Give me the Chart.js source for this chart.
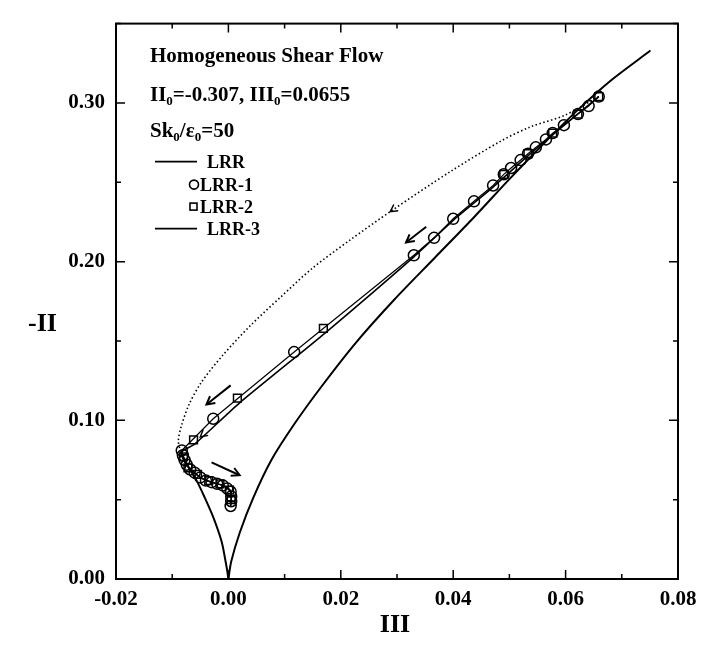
<!DOCTYPE html>
<html>
<head>
<meta charset="utf-8">
<script src="https://cdn.jsdelivr.net/npm/chart.js@4"></script>
<style>
  html, body { margin: 0; padding: 0; background: #fff; }
</style>
</head>
<body>
<canvas id="chart" width="718" height="646"></canvas>
<script>
// axis ticks
const xTickValues = [-0.02, 0.0, 0.02, 0.04, 0.06, 0.08];
const xTickLabels = ["-0.02", "0.00", "0.02", "0.04", "0.06", "0.08"];
const yTickValues = [0.0, 0.1, 0.2, 0.3];
const yTickLabels = ["0.00", "0.10", "0.20", "0.30"];

// realizability boundary, left branch (III < 0)
const boundLeftIII = [0.0, -0.0002, -0.0005, -0.0012, -0.0027, -0.0043, -0.0057, -0.0070, -0.0085];
const boundLeftII  = [0.0, 0.005, 0.011, 0.0235, 0.039, 0.052, 0.0623, 0.070, 0.080];

// realizability boundary, right branch (III > 0)
const boundRightIII = [0.0, 0.0005, 0.0020, 0.0044, 0.0076, 0.0117, 0.0165, 0.0227, 0.0295, 0.0366, 0.0437, 0.0500, 0.0560, 0.0620, 0.0680, 0.0751];
const boundRightII  = [0.0, 0.011, 0.029, 0.051, 0.0747, 0.0975, 0.121, 0.149, 0.176, 0.202, 0.228, 0.252, 0.274, 0.295, 0.314, 0.333];

// LRR (dotted)
const lrrIII = [0.0659, 0.0597, 0.0538, 0.0485, 0.0396, 0.0290, 0.0218, 0.0150, 0.0094, 0.0040, -0.0010, -0.0048, -0.0070, -0.0084, -0.0089, -0.0085];
const lrrII  = [0.304, 0.292, 0.285, 0.276, 0.257, 0.232, 0.214, 0.196, 0.178, 0.160, 0.141, 0.124, 0.110, 0.096, 0.087, 0.080];

// LRR-1 (circles)
const lrr1III = [0.0659, 0.0641, 0.0622, 0.0597, 0.0577, 0.0565, 0.0547, 0.0533, 0.0520, 0.0503, 0.0490, 0.0471, 0.0437, 0.0400, 0.0366, 0.0330, 0.0117, -0.0027, -0.0083, -0.0081, -0.0078, -0.0074, -0.0068, -0.0060, -0.0050, -0.0040, -0.0030, -0.0020, -0.0010, -0.0002, 0.0004, 0.0005, 0.0005, 0.0004];
const lrr1II  = [0.304, 0.298, 0.293, 0.286, 0.281, 0.277, 0.272, 0.268, 0.264, 0.259, 0.255, 0.248, 0.238, 0.227, 0.215, 0.204, 0.143, 0.101, 0.081, 0.078, 0.075, 0.072, 0.069, 0.067, 0.064, 0.062, 0.061, 0.060, 0.059, 0.057, 0.055, 0.052, 0.049, 0.046];

// LRR-2 (squares)
const lrr2III = [0.0659, 0.0622, 0.0577, 0.0533, 0.0490, 0.0169, 0.0016, -0.0062, -0.0080, -0.0072, -0.0055, -0.0035, -0.0015, 0.0002, 0.0005];
const lrr2II  = [0.304, 0.293, 0.281, 0.268, 0.255, 0.158, 0.114, 0.0877, 0.077, 0.070, 0.066, 0.062, 0.060, 0.056, 0.050];

// LRR-3 (solid)
const lrr3III = [0.0659, 0.0547, 0.0471, 0.0400, 0.0330, 0.0172, 0.0020, -0.0060, -0.0084, -0.0080, -0.0070, -0.0050, -0.0030, -0.0010, 0.0003, 0.0005, 0.0004];
const lrr3II  = [0.304, 0.271, 0.247, 0.226, 0.203, 0.155, 0.111, 0.085, 0.080, 0.075, 0.070, 0.064, 0.061, 0.059, 0.056, 0.051, 0.046];

// direction arrows [III1, -II1, III2, -II2]
const arrowLines = [[0.0352, 0.222, 0.0316, 0.212], [0.0004, 0.122, -0.0039, 0.110], [-0.0030, 0.0735, 0.0020, 0.0654]];
const arrowHeads = [[0.0300, 0.2345, 0.0288, 0.2315], [-0.0040, 0.0925, -0.0050, 0.0895]];

const serif = '"Liberation Serif", "Times New Roman", serif';

function pts(xs, ys) {
  return xs.map((x, i) => ({ x: x, y: ys[i] }));
}

function drawRuns(ctx, x, y, runs, size) {
  for (const r of runs) {
    if (r.sub) {
      ctx.font = "bold " + Math.round(size * 0.6) + "px " + serif;
      ctx.fillText(r.t, x, y + size * 0.22);
    } else {
      ctx.font = "bold " + size + "px " + serif;
      ctx.fillText(r.t, x, y);
    }
    x += ctx.measureText(r.t).width;
  }
}

function arrow(ctx, x1, y1, x2, y2, head, shaft) {
  const a = Math.atan2(y2 - y1, x2 - x1);
  if (shaft) {
    ctx.beginPath(); ctx.moveTo(x1, y1); ctx.lineTo(x2, y2); ctx.stroke();
  }
  ctx.beginPath();
  ctx.moveTo(x2 - head * Math.cos(a - 0.5), y2 - head * Math.sin(a - 0.5));
  ctx.lineTo(x2, y2);
  ctx.lineTo(x2 - head * Math.cos(a + 0.5), y2 - head * Math.sin(a + 0.5));
  ctx.stroke();
}

const decor = {
  id: "decor",
  afterDraw(chart) {
    const ctx = chart.ctx;
    const a = chart.chartArea;
    const xs = chart.scales.x, ys = chart.scales.y;
    ctx.save();
    ctx.strokeStyle = "#000";
    ctx.fillStyle = "#000";

    // frame
    ctx.lineWidth = 2;
    ctx.strokeRect(a.left, a.top, a.right - a.left, a.bottom - a.top);

    // inward ticks on all sides
    ctx.lineWidth = 1.5;
    ctx.beginPath();
    for (let i = 0; i < xTickValues.length; i++) {
      const px = xs.getPixelForValue(xTickValues[i]);
      ctx.moveTo(px, a.bottom); ctx.lineTo(px, a.bottom - 9);
      ctx.moveTo(px, a.top); ctx.lineTo(px, a.top + 9);
      if (i < xTickValues.length - 1) {
        const mx = xs.getPixelForValue((xTickValues[i] + xTickValues[i + 1]) / 2);
        ctx.moveTo(mx, a.bottom); ctx.lineTo(mx, a.bottom - 5);
        ctx.moveTo(mx, a.top); ctx.lineTo(mx, a.top + 5);
      }
    }
    for (let i = 0; i < yTickValues.length; i++) {
      const py = ys.getPixelForValue(yTickValues[i]);
      ctx.moveTo(a.left, py); ctx.lineTo(a.left + 9, py);
      ctx.moveTo(a.right, py); ctx.lineTo(a.right - 9, py);
      const my = ys.getPixelForValue(yTickValues[i] + 0.05);
      ctx.moveTo(a.left, my); ctx.lineTo(a.left + 5, my);
      ctx.moveTo(a.right, my); ctx.lineTo(a.right - 5, my);
    }
    ctx.stroke();

    // axis titles
    ctx.font = "bold 26px " + serif;
    ctx.textAlign = "left";
    ctx.fillText("-II", 28, 331);
    ctx.textAlign = "center";
    ctx.fillText("III", 395, 632);

    // text block
    ctx.textAlign = "left";
    const tx = a.left + 34;
    ctx.font = "bold 21px " + serif;
    ctx.fillText("Homogeneous Shear Flow", tx, a.top + 38);
    drawRuns(ctx, tx, a.top + 77, [{ t: "II" }, { t: "0", sub: true }, { t: "=-0.307, III" }, { t: "0", sub: true }, { t: "=0.0655" }], 21);
    drawRuns(ctx, tx, a.top + 113, [{ t: "Sk" }, { t: "0", sub: true }, { t: "/\u03b5" }, { t: "0", sub: true }, { t: "=50" }], 21);

    // legend
    ctx.font = "bold 18px " + serif;
    ctx.lineWidth = 1.6;
    const rows = [a.top + 138, a.top + 161, a.top + 183, a.top + 205];
    ctx.beginPath();
    ctx.moveTo(a.left + 39, rows[0]); ctx.lineTo(a.left + 81, rows[0]);
    ctx.moveTo(a.left + 39, rows[3]); ctx.lineTo(a.left + 81, rows[3]);
    ctx.stroke();
    ctx.beginPath();
    ctx.arc(a.left + 78, rows[1], 4.5, 0, Math.PI * 2);
    ctx.stroke();
    ctx.strokeRect(a.left + 74, rows[2] - 3.5, 7, 7);
    ctx.fillText("LRR", a.left + 91, rows[0] + 6);
    ctx.fillText("LRR-1", a.left + 84, rows[1] + 6);
    ctx.fillText("LRR-2", a.left + 84, rows[2] + 6);
    ctx.fillText("LRR-3", a.left + 91, rows[3] + 6);

    // arrows
    ctx.lineWidth = 2;
    for (const r of arrowLines) {
      arrow(ctx, xs.getPixelForValue(r[0]), ys.getPixelForValue(r[1]), xs.getPixelForValue(r[2]), ys.getPixelForValue(r[3]), 9, true);
    }
    ctx.lineWidth = 1.5;
    for (const r of arrowHeads) {
      arrow(ctx, xs.getPixelForValue(r[0]), ys.getPixelForValue(r[1]), xs.getPixelForValue(r[2]), ys.getPixelForValue(r[3]), 8, false);
    }
    ctx.restore();
  }
};

const tickFont = { family: serif, size: 21, weight: "bold" };

new Chart(document.getElementById("chart"), {
  type: "scatter",
  data: {
    datasets: [
      { label: "left", data: pts(boundLeftIII, boundLeftII), showLine: true, borderColor: "#000", borderWidth: 2, pointRadius: 0, tension: 0.3 },
      { label: "right", data: pts(boundRightIII, boundRightII), showLine: true, borderColor: "#000", borderWidth: 2, pointRadius: 0, tension: 0.3 },
      { label: "LRR", data: pts(lrrIII, lrrII), showLine: true, borderColor: "#000", borderWidth: 1.6, borderDash: [1.5, 2.5], pointRadius: 0, tension: 0.3 },
      { label: "LRR-3", data: pts(lrr3III, lrr3II), showLine: true, borderColor: "#000", borderWidth: 1.6, pointRadius: 0, tension: 0.2 },
      { label: "LRR-1", data: pts(lrr1III, lrr1II), showLine: true, borderColor: "#000", borderWidth: 1.2, pointStyle: "circle", pointRadius: 5.5, pointBorderWidth: 1.5, pointBackgroundColor: "rgba(255,255,255,0)", pointBorderColor: "#000" },
      { label: "LRR-2", data: pts(lrr2III, lrr2II), showLine: false, pointStyle: "rect", pointRadius: 5.5, pointBorderWidth: 1.5, pointBackgroundColor: "rgba(255,255,255,0)", pointBorderColor: "#000" }
    ]
  },
  options: {
    responsive: false,
    animation: false,
    layout: { padding: { left: 0, right: 40, top: 12, bottom: 0 } },
    plugins: { legend: { display: false }, tooltip: { enabled: false } },
    scales: {
      x: {
        type: "linear",
        min: -0.02,
        max: 0.08,
        afterBuildTicks: (s) => { s.ticks = xTickValues.map((v) => ({ value: v })); },
        afterFit: (s) => { s.height = 67; },
        ticks: { callback: (v, i) => xTickLabels[i], font: tickFont, color: "#000", padding: 8, maxRotation: 0, autoSkip: false },
        grid: { display: false, drawTicks: false },
        border: { display: false }
      },
      y: {
        type: "linear",
        min: 0,
        max: 0.35,
        afterBuildTicks: (s) => { s.ticks = yTickValues.map((v) => ({ value: v })); },
        afterFit: (s) => { s.width = 116; },
        ticks: { callback: (v, i) => yTickLabels[i], font: tickFont, color: "#000", padding: 11, autoSkip: false },
        grid: { display: false, drawTicks: false },
        border: { display: false }
      }
    }
  },
  plugins: [decor]
});
</script>
</body>
</html>
